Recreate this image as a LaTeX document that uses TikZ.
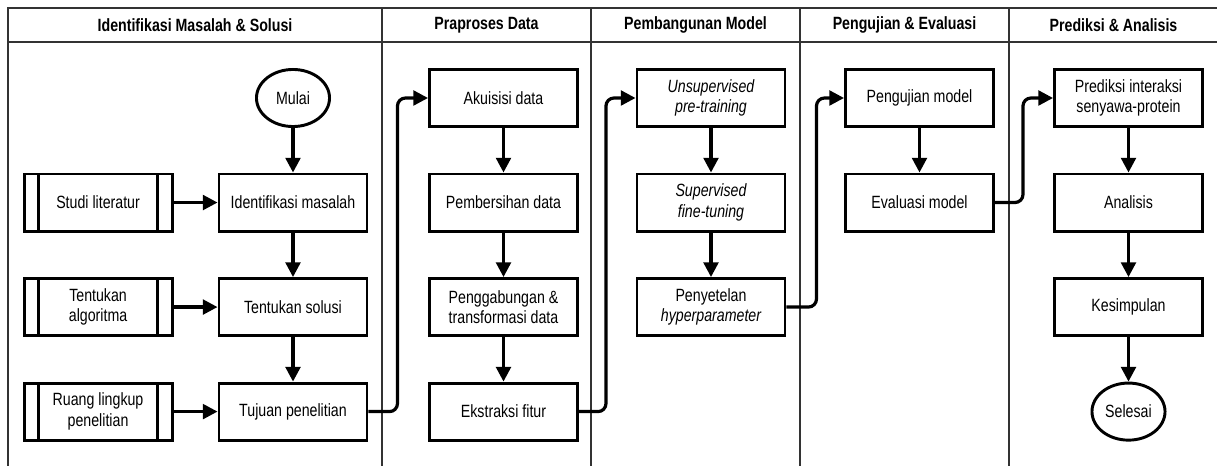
\documentclass[tikz,border=0pt]{standalone}
\usepackage{fontspec}
\setmainfont[FakeStretch=0.8]{Liberation Sans}
\usetikzlibrary{positioning,arrows.meta,shapes.geometric}
\newcommand\boxfont{\fontsize{13.3}{15.5}\selectfont}
\tikzset{%
  lane/.style={draw=black!80,line width=0.8pt},
  lanehead/.style={font=\boxfont\bfseries},
  box/.style={draw,line width=2.2pt,minimum width=111pt,minimum height=42.8pt,inner sep=2pt,align=center},
  subproc/.style={box,path picture={
    \draw[line width=2.2pt] ([xshift=10.6pt]path picture bounding box.north west) -- ([xshift=10.6pt]path picture bounding box.south west)
      ([xshift=-10.6pt]path picture bounding box.north east) -- ([xshift=-10.6pt]path picture bounding box.south east);}},
  term/.style={draw,ellipse,line width=2.2pt,minimum width=54.8pt,minimum height=42.8pt,inner sep=0pt},
  flow/.style={line width=2.4pt,-{Triangle[length=11pt,width=11pt]}},
  crossflow/.style={flow,rounded corners=6pt}
}

\begin{document}
\begin{tikzpicture}[x=0.75pt,y=-0.75pt,node distance=33.4pt,every node/.style={font=\boxfont}]
  \useasboundingbox (0,0) rectangle (1217,466);

  % swimlanes
  \draw[lane] (8,466) -- (8,8) -- (1217,8);
  \draw[lane] (8,42) -- (1217,42);
  \draw[lane] (382,8) -- (382,466);
  \draw[lane] (591,8) -- (591,466);
  \draw[lane] (800,8) -- (800,466);
  \draw[lane] (1009,8) -- (1009,466);

  \node[lanehead] (h1) at (195,25) {Identifikasi Masalah \& Solusi};
  \node[lanehead] (h2) at (486.5,25) {Praproses Data};
  \node[lanehead] (h3) at (695.5,25) {Pembangunan Model};
  \node[lanehead] (h4) at (904.5,25) {Pengujian \& Evaluasi};
  \node[lanehead] (h5) at (1113.5,25) {Prediksi \& Analisis};

  % identifikasi masalah & solusi
  \node[term] (mulai) at (293,98) {Mulai};
  \node[box,below=of mulai] (masalah) {Identifikasi masalah};
  \node[subproc,left=33pt of masalah] (studi) {Studi literatur};
  \node[box,below=of masalah] (solusi) {Tentukan solusi};
  \node[subproc,left=33pt of solusi] (algo) {Tentukan\\algoritma};
  \node[box,below=of solusi] (tujuan) {Tujuan penelitian};
  \node[subproc,left=33pt of tujuan] (ruang) {Ruang lingkup\\penelitian};

  % praproses data
  \node[box] (akuisisi) at (503.5,98) {Akuisisi data};
  \node[box,below=of akuisisi] (bersih) {Pembersihan data};
  \node[box,below=of bersih] (gabung) {Penggabungan \&\\transformasi data};
  \node[box,below=of gabung] (fitur) {Ekstraksi fitur};

  % pembangunan model
  \node[box] (pretrain) at (711,98) {\itshape Unsupervised\\\itshape pre-training};
  \node[box,below=of pretrain] (finetune) {\itshape Supervised\\\itshape fine-tuning};
  \node[box,below=of finetune] (hparam) {Penyetelan\\\itshape hyperparameter};

  % pengujian & evaluasi
  \node[box] (uji) at (919.5,98) {Pengujian model};
  \node[box,below=of uji] (eval) {Evaluasi model};

  % prediksi & analisis
  \node[box] (prediksi) at (1128.5,98) {Prediksi interaksi\\senyawa-protein};
  \node[box,below=of prediksi] (analisis) {Analisis};
  \node[box,below=of analisis] (simpul) {Kesimpulan};
  \node[term,below=of simpul] (selesai) {Selesai};

  \draw[flow] (mulai) -- (masalah);
  \draw[flow] (masalah) -- (solusi);
  \draw[flow] (solusi) -- (tujuan);
  \draw[flow] (studi) -- (masalah);
  \draw[flow] (algo) -- (solusi);
  \draw[flow] (ruang) -- (tujuan);

  \draw[flow] (akuisisi) -- (bersih);
  \draw[flow] (bersih) -- (gabung);
  \draw[flow] (gabung) -- (fitur);

  \draw[flow] (pretrain) -- (finetune);
  \draw[flow] (finetune) -- (hparam);

  \draw[flow] (uji) -- (eval);

  \draw[flow] (prediksi) -- (analisis);
  \draw[flow] (analisis) -- (simpul);
  \draw[flow] (simpul) -- (selesai);

  % lintas lajur
  \draw[crossflow] (tujuan.east) -- ++(29,0) |- (akuisisi.west);
  \draw[crossflow] (fitur.east) -- ++(27,0) |- (pretrain.west);
  \draw[crossflow] (hparam.east) -- ++(30,0) |- (uji.west);
  \draw[crossflow] (eval.east) -- ++(28,0) |- (prediksi.west);
\end{tikzpicture}
\end{document}
